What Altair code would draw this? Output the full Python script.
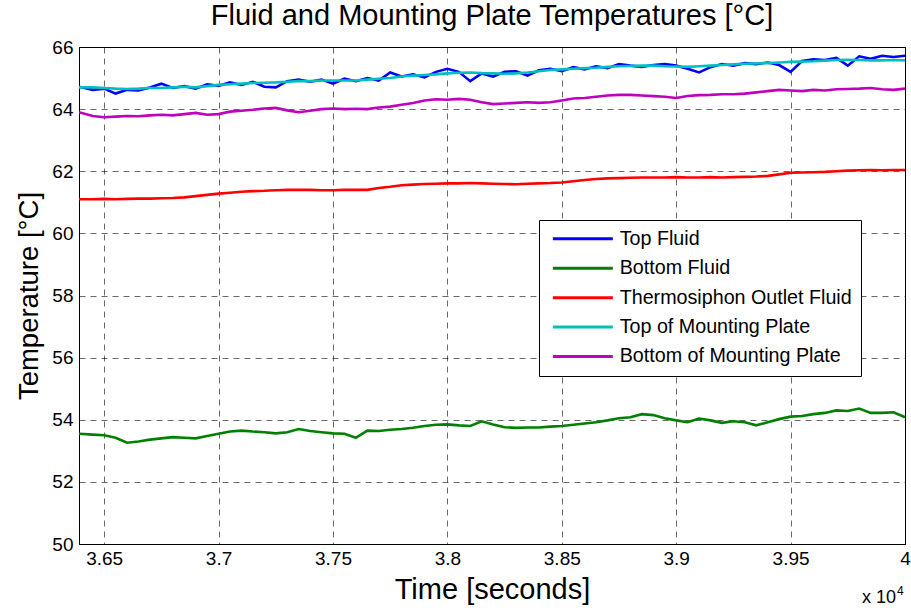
import altair as alt
import pandas as pd

# ---- data ----
time_s = [36390] + list(range(36450, 40001, 50))

series_names = ["Top Fluid", "Bottom Fluid", "Thermosiphon Outlet Fluid",
                "Top of Mounting Plate", "Bottom of Mounting Plate"]
series_colors = ["#0000FF", "#008000", "#FF0000", "#00BFBF", "#BF00BF"]

top_fluid = [64.72, 64.62, 64.66, 64.50, 64.62, 64.60, 64.70, 64.82, 64.68, 64.74,
             64.66, 64.80, 64.75, 64.86, 64.78, 64.88, 64.72, 64.70, 64.90, 64.95,
             64.88, 64.95, 64.82, 64.98, 64.90, 65.00, 64.92, 65.18, 65.05, 65.12,
             65.02, 65.20, 65.30, 65.20, 64.90, 65.15, 65.05, 65.20, 65.22, 65.08,
             65.25, 65.30, 65.22, 65.35, 65.28, 65.38, 65.32, 65.45, 65.40, 65.36,
             65.42, 65.45, 65.40, 65.30, 65.18, 65.35, 65.45, 65.40, 65.48, 65.45,
             65.50, 65.42, 65.20, 65.55, 65.60, 65.58, 65.65, 65.40, 65.70, 65.62,
             65.72, 65.68, 65.72]

bottom_fluid = [53.55, 53.52, 53.50, 53.42, 53.26, 53.30, 53.36, 53.40, 53.44, 53.42,
                53.40, 53.48, 53.55, 53.62, 53.65, 53.62, 53.60, 53.56, 53.60, 53.70,
                53.64, 53.60, 53.56, 53.55, 53.42, 53.65, 53.64, 53.68, 53.70, 53.74,
                53.80, 53.84, 53.85, 53.82, 53.80, 53.95, 53.85, 53.76, 53.74, 53.75,
                53.75, 53.78, 53.80, 53.84, 53.88, 53.92, 53.98, 54.05, 54.08, 54.18,
                54.15, 54.05, 53.98, 53.92, 54.04, 53.98, 53.90, 53.95, 53.92, 53.82,
                53.92, 54.02, 54.10, 54.12, 54.18, 54.22, 54.30, 54.28, 54.36, 54.22,
                54.22, 54.24, 54.08]

outlet_fluid = [61.10, 61.10, 61.11, 61.10, 61.11, 61.12, 61.12, 61.13, 61.14, 61.16,
                61.20, 61.24, 61.28, 61.31, 61.34, 61.36, 61.37, 61.39, 61.40, 61.40,
                61.40, 61.39, 61.39, 61.40, 61.40, 61.40, 61.46, 61.50, 61.55, 61.57,
                61.59, 61.60, 61.61, 61.61, 61.62, 61.61, 61.60, 61.59, 61.58, 61.60,
                61.61, 61.62, 61.64, 61.68, 61.72, 61.75, 61.77, 61.78, 61.79, 61.80,
                61.80, 61.80, 61.81, 61.80, 61.80, 61.81, 61.80, 61.81, 61.82, 61.83,
                61.85, 61.90, 61.95, 61.96, 61.97, 61.98, 62.00, 62.02, 62.03, 62.04,
                62.03, 62.04, 62.04]

top_plate = [64.70, 64.70, 64.68, 64.66, 64.65, 64.66, 64.68, 64.68, 64.70, 64.72,
             64.70, 64.74, 64.78, 64.80, 64.82, 64.84, 64.85, 64.86, 64.88, 64.90,
             64.90, 64.92, 64.92, 64.92, 64.92, 64.95, 64.98, 65.00, 65.05, 65.08,
             65.10, 65.12, 65.15, 65.17, 65.18, 65.16, 65.15, 65.14, 65.15, 65.18,
             65.22, 65.26, 65.28, 65.30, 65.32, 65.33, 65.36, 65.38, 65.39, 65.40,
             65.40, 65.38, 65.37, 65.36, 65.38, 65.40, 65.42, 65.44, 65.46, 65.47,
             65.48, 65.50, 65.52, 65.53, 65.54, 65.56, 65.58, 65.59, 65.58, 65.57,
             65.57, 65.58, 65.57]

bottom_plate = [63.90, 63.78, 63.74, 63.76, 63.78, 63.77, 63.80, 63.82, 63.80, 63.84,
                63.88, 63.82, 63.84, 63.92, 63.95, 63.98, 64.02, 64.04, 63.96, 63.90,
                63.95, 64.00, 64.02, 64.00, 64.01, 64.00, 64.05, 64.08, 64.14, 64.20,
                64.28, 64.32, 64.30, 64.33, 64.30, 64.22, 64.16, 64.18, 64.20, 64.22,
                64.20, 64.22, 64.28, 64.34, 64.36, 64.40, 64.44, 64.46, 64.46, 64.44,
                64.42, 64.40, 64.36, 64.42, 64.45, 64.46, 64.48, 64.48, 64.50, 64.54,
                64.58, 64.62, 64.60, 64.58, 64.62, 64.60, 64.64, 64.65, 64.66, 64.68,
                64.64, 64.62, 64.66]

x_ticks = [36500, 37000, 37500, 38000, 38500, 39000, 39500, 40000]
y_ticks = [50, 52, 54, 56, 58, 60, 62, 64, 66]

# ---- long table ----
all_values = [top_fluid, bottom_fluid, outlet_fluid, top_plate, bottom_plate]
rows = []
for order, (name, vals) in enumerate(zip(series_names, all_values)):
    for t, v in zip(time_s, vals):
        rows.append({"time": t, "temp": v, "series": name, "order": order})
df = pd.DataFrame(rows)

FONT = "Liberation Sans"

lines = alt.Chart(df).mark_line(strokeWidth=2.6, clip=True).encode(
    x=alt.X("time:Q",
            scale=alt.Scale(domain=[36390, 40000], nice=False, zero=False),
            axis=alt.Axis(values=x_ticks, labelExpr="toString(datum.value/10000)",
                          title="Time [seconds]", titlePadding=7, labelPadding=5,
                          titleFontSize=29, labelFlush=False)),
    y=alt.Y("temp:Q",
            scale=alt.Scale(domain=[50, 66], nice=False, zero=False),
            axis=alt.Axis(values=y_ticks, title="Temperature [°C]",
                          titleFontSize=27.5, titlePadding=8, labelPadding=6)),
    color=alt.Color("series:N",
                    scale=alt.Scale(domain=series_names, range=series_colors),
                    legend=alt.Legend(title=None, orient="none",
                                      legendX=460, legendY=173,
                                      fillColor="white", strokeColor="black",
                                      padding=9,
                                      symbolType="M-6,0H6", symbolSize=100,
                                      symbolStrokeWidth=3,
                                      symbolOffset=25, labelOffset=27,
                                      labelFont=FONT, labelFontSize=19.7,
                                      labelColor="black", labelLimit=500,
                                      rowPadding=8.4)),
    order=alt.Order("order:Q"),
)

mult_df = pd.DataFrame({"txt": ["x 10", "4"]})
mult_main = alt.Chart(mult_df.iloc[[0]]).mark_text(
    align="left", baseline="alphabetic", font=FONT, fontSize=18, color="black"
).encode(text="txt:N", x=alt.value(783), y=alt.value(556))
mult_sup = alt.Chart(mult_df.iloc[[1]]).mark_text(
    align="left", baseline="alphabetic", font=FONT, fontSize=12, color="black"
).encode(text="txt:N", x=alt.value(818), y=alt.value(548))

chart = alt.layer(lines, mult_main, mult_sup).properties(
    width=826, height=497,
    background="white",
    title=alt.TitleParams("Fluid and Mounting Plate Temperatures [°C]",
                          font=FONT, fontSize=29, fontWeight="normal",
                          color="black", offset=7, anchor="middle"),
    autosize=alt.AutoSizeParams(type="none"),
    padding={"left": 79, "top": 47, "right": 6, "bottom": 66},
).configure_view(
    stroke="black", strokeWidth=1
).configure_axis(
    domain=True, domainColor="black", domainWidth=1,
    grid=True, gridColor="black", gridDash=[6, 5], gridWidth=0.7, gridOpacity=0.85,
    ticks=False,
    labelFont=FONT, labelFontSize=19, labelColor="black",
    titleFont=FONT, titleFontWeight="normal", titleColor="black",
)

chart.save("out.html", embed_options={"renderer": "svg", "actions": False})
